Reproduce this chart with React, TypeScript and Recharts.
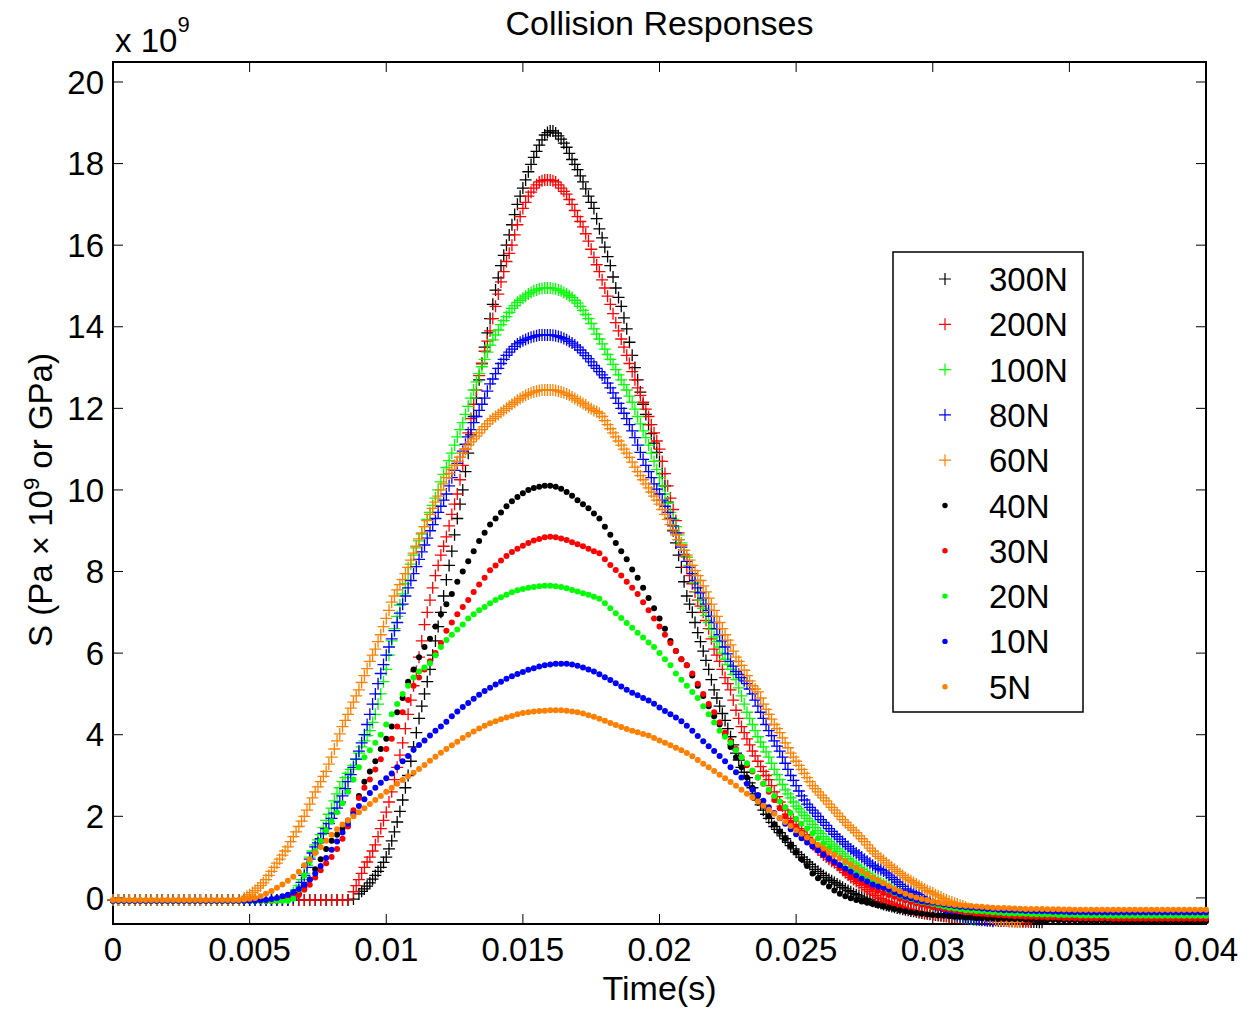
import React from 'react';
import { ScatterChart, Scatter, XAxis, YAxis, Legend } from 'recharts';

const FONT = '"Liberation Sans", Arial, Helvetica, sans-serif';
const STEP = 0.0002; // sampling interval of every series, seconds (first sample at t = 0)

const X_TICKS = [0, 0.005, 0.01, 0.015, 0.02, 0.025, 0.03, 0.035, 0.04];
const Y_TICKS = [0, 2, 4, 6, 8, 10, 12, 14, 16, 18, 20];
const Y_DOMAIN = [-0.64, 20.49];

// S in GPa, samples at t = i * STEP, one row per millisecond (5 samples)
const S300 = [
  -.05,-.05,-.05,-.05,-.05, -.05,-.05,-.05,-.05,-.05, -.05,-.05,-.05,-.05,-.05, -.05,-.05,-.05,-.05,-.05,
  -.05,-.05,-.05,-.05,-.05, -.05,-.05,-.05,-.05,-.05, -.05,-.05,-.05,-.05,-.05, -.05,-.05,-.05,-.05,-.05,
  -.05,-.05,-.05,-.05,-.03,
  .1,.22,.37,.55,.75,
  1,1.4,1.86,2.4,3,
  3.7,4.4,5,5.6,6.3,
  7,7.8,8.5,9.3,10,
  10.9,11.8,12.7,13.5,14.2,
  14.9,15.5,16,16.5,17,
  17.4,17.8,18.15,18.45,18.7,
  18.8,18.75,18.6,18.4,18.1,
  17.85,17.55,17.2,16.9,16.4,
  15.95,15.5,14.95,14.5,13.95,
  13.3,12.7,12.1,11.6,11.15,
  10.7,10.1,9.3,8.7,8.1,
  7.4,7,6.5,6.05,5.6,
  5.1,4.7,4.35,3.95,3.55,
  3.2,2.95,2.7,2.4,2.15,
  1.95,1.75,1.6,1.45,1.28,
  1.12,1,.88,.76,.65,
  .55,.46,.38,.3,.22,
  .15,.08,.02,-.03,-.08,
  -.12,-.16,-.2,-.23,-.26,
  -.29,-.32,-.34,-.37,-.39,
  -.41,-.43,-.45,-.46,-.48,
  -.49,-.5,-.51,-.52,-.53,
  -.54,-.55,-.56,-.56,-.57,
  -.57,-.58,-.58,-.59,-.59,
  -.6,
];
// in-between samples of the dense part, t = 0.0091 + i * STEP
const M300 = [
  .16,.29,.46,.65,.87,
  1.2,1.62,2.12,2.7,3.35,
  4.05,4.7,5.3,5.95,6.65,
  7.4,8.15,8.9,9.65,10.45,
  11.35,12.25,13.1,13.85,14.55,
  15.2,15.75,16.25,16.75,17.2,
  17.6,17.98,18.3,18.58,18.76,
  18.8,18.68,18.5,18.25,17.98,
  17.7,17.38,17.05,16.65,16.18,
  15.72,15.22,14.72,14.22,13.62,
  13,12.4,11.85,11.38,10.92,
  10.4,9.7,9,8.4,7.75,
  7.2,6.75,6.28,5.82,5.35,
  4.9,4.52,4.15,3.75,3.38,
  3.08,2.82,2.55,2.28,2.05,
  1.85,1.68,1.52,1.36,1.2,
  1.06,.94,.82,.7,.6,
  .5,.42,.34,.26,.18,
  .11,.05,-.01,-.05,-.1,
  -.14,-.18,-.21,-.25,-.28,
  -.3,-.33,-.36,-.38,-.4,
  -.42,-.44,-.45,-.47,-.48,
  -.5,-.5,-.52,-.52,-.54,
  -.54,-.55,-.56,-.56,-.57,
  -.58,-.58,-.58,-.59,-.6,
];

const S200 = [
  -.05,-.05,-.05,-.05,-.05, -.05,-.05,-.05,-.05,-.05, -.05,-.05,-.05,-.05,-.05, -.05,-.05,-.05,-.05,-.05,
  -.05,-.05,-.05,-.05,-.05, -.05,-.05,-.05,-.05,-.05, -.05,-.05,-.05,-.05,-.05, -.05,-.05,-.05,-.05,-.05,
  -.05,-.05,-.05,-.05,.15,
  .45,.75,1,1.3,1.7,
  2.1,2.6,3.2,3.8,4.5,
  5.2,5.9,6.7,7.3,7.9,
  8.4,8.85,9.4,9.9,10.6,
  11.4,12.1,12.8,13.4,13.9,
  14.5,15.1,15.6,16,16.5,
  16.9,17.2,17.4,17.55,17.6,
  17.6,17.55,17.4,17.25,17,
  16.7,16.45,16.1,15.7,15.35,
  14.95,14.55,14.1,13.7,13.3,
  12.9,12.5,12.15,11.8,11.4,
  11,10.4,9.8,9.25,8.65,
  8.1,7.7,7.3,7,6.6,
  6.1,5.8,5.4,5.1,4.6,
  4.2,3.9,3.6,3.35,3.1,
  2.9,2.6,2.35,2.15,1.95,
  1.8,1.62,1.48,1.35,1.18,
  1.05,.95,.86,.75,.62,
  .5,.4,.3,.2,.1,
  .02,-.05,-.1,-.16,-.21,
  -.25,-.29,-.32,-.35,-.38,
  -.4,-.42,-.44,-.46,-.47,
  -.48,-.5,-.51,-.52,-.53,
  -.54,-.55,-.55,-.56,-.56,
  -.57,-.57,-.58,-.58,
];
// t = 0.0089 + i * STEP
const M200 = [
  .3,
  .6,.88,1.15,1.5,1.9,
  2.35,2.9,3.5,4.15,4.85,
  5.55,6.3,7,7.6,8.15,
  8.62,9.12,9.65,10.25,11,
  11.75,12.45,13.1,13.65,14.2,
  14.8,15.35,15.8,16.25,16.7,
  17.05,17.3,17.48,17.58,17.6,
  17.58,17.48,17.32,17.12,16.85,
  16.58,16.28,15.9,15.52,15.15,
  14.75,14.32,13.9,13.5,13.1,
  12.7,12.32,11.98,11.6,11.2,
  10.7,10.1,9.52,8.95,8.38,
  7.9,7.5,7.15,6.8,6.35,
  5.95,5.6,5.25,4.85,4.4,
  4.05,3.75,3.48,3.22,3,
  2.75,2.48,2.25,2.05,1.88,
  1.7,1.55,1.42,1.26,1.12,
  1,.9,.8,.68,.56,
  .45,.35,.25,.15,.06,
  -.02,-.08,-.13,-.18,-.23,
  -.27,-.3,-.34,-.36,-.39,
  -.41,-.43,-.45,-.46,-.48,
  -.49,-.5,-.52,-.52,-.54,
  -.54,-.55,-.56,-.56,-.56,
  -.57,-.58,-.58,
];

const S100 = [
  -.05,-.05,-.05,-.05,-.05, -.05,-.05,-.05,-.05,-.05, -.05,-.05,-.05,-.05,-.05,
  -.05,-.05,-.05,-.05,-.05, -.05,-.05,-.05,-.05,-.05, -.05,-.05,-.05,-.05,-.05,
  -.05,-.05,0,.12,.3,
  .6,1,1.3,1.55,1.9,
  2.2,2.55,2.85,3.05,3.25,
  3.55,3.85,4.1,4.5,5,
  5.6,6.3,6.9,7.45,7.95,
  8.4,8.75,9.1,9.45,9.8,
  10.2,10.55,10.9,11.3,11.65,
  12.05,12.45,12.85,13.2,13.55,
  13.8,14.05,14.25,14.45,14.6,
  14.7,14.8,14.88,14.93,14.95,
  14.95,14.93,14.88,14.8,14.72,
  14.58,14.4,14.2,13.95,13.7,
  13.45,13.2,12.95,12.7,12.45,
  12.15,11.8,11.45,11.1,10.7,
  10.3,9.9,9.45,9.1,8.7,
  8.35,7.95,7.5,7.1,6.75,
  6.4,6.15,5.85,5.6,5.35,
  4.95,4.55,4.25,3.95,3.7,
  3.45,3.15,2.9,2.65,2.45,
  2.25,2.1,1.95,1.8,1.65,
  1.5,1.38,1.26,1.14,1.02,
  .9,.8,.7,.6,.5,
  .42,.34,.28,.22,.15,
  .09,.05,0,-.06,-.12,
  -.18,-.24,-.3,-.36,-.41,
  -.45,-.49,-.52,-.55,
];
// t = 0.0065 + i * STEP
const M100 = [
  .05,.2,.45,
  .8,1.15,1.42,1.72,2.05,
  2.38,2.7,2.95,3.15,3.4,
  3.7,3.98,4.3,4.75,5.3,
  5.95,6.6,7.18,7.7,8.18,
  8.58,8.92,9.28,9.62,10,
  10.38,10.72,11.1,11.48,11.85,
  12.25,12.65,13.02,13.38,13.68,
  13.92,14.15,14.35,14.52,14.65,
  14.75,14.84,14.9,14.94,14.95,
  14.94,14.9,14.84,14.76,14.65,
  14.5,14.3,14.08,13.82,13.58,
  13.32,13.08,12.82,12.58,12.3,
  11.98,11.62,11.28,10.9,10.5,
  10.1,9.68,9.28,8.9,8.52,
  8.15,7.72,7.3,6.92,6.58,
  6.28,6,5.72,5.48,5.15,
  4.75,4.4,4.1,3.82,3.58,
  3.3,3.02,2.78,2.55,2.35,
  2.18,2.02,1.88,1.72,1.58,
  1.44,1.32,1.2,1.08,.96,
  .85,.75,.65,.55,.46,
  .38,.31,.25,.18,.12,
  .07,.02,-.03,-.09,-.15,
  -.21,-.27,-.33,-.38,-.43,
  -.47,-.5,-.54,
];

const S80 = [
  -.05,-.05,-.05,-.05,-.05, -.05,-.05,-.05,-.05,-.05, -.05,-.05,-.05,-.05,-.05,
  -.05,-.05,-.05,-.05,-.05, -.05,-.05,-.05,-.05,-.05, -.05,-.05,-.05,-.05,-.05,
  -.05,-.05,-.05,0,.2,
  .55,.95,1.25,1.45,1.7,
  1.95,2.2,2.5,2.85,3.2,
  3.6,4,4.5,5,5.5,
  5.95,6.35,6.75,7.2,7.6,
  7.95,8.3,8.65,9,9.3,
  9.6,9.9,10.3,10.65,10.95,
  11.3,11.65,11.95,12.25,12.6,
  12.85,13.1,13.3,13.45,13.58,
  13.66,13.72,13.76,13.8,13.8,
  13.8,13.78,13.74,13.68,13.6,
  13.5,13.36,13.22,13.05,12.9,
  12.75,12.5,12.25,12,11.75,
  11.45,11.1,10.75,10.45,10.15,
  9.9,9.6,9.3,8.95,8.6,
  8.25,7.95,7.6,7.35,7.05,
  6.75,6.45,6.15,5.8,5.55,
  5.4,5.25,5,4.7,4.4,
  4.1,3.85,3.6,3.3,3,
  2.75,2.5,2.3,2.15,2,
  1.85,1.7,1.56,1.44,1.32,
  1.2,1.1,1,.9,.8,
  .72,.66,.56,.45,.33,
  .22,.16,.12,.03,-.06,
  -.15,-.23,-.3,-.36,-.41,
  -.45,-.48,-.51,-.53,-.55,
  -.56,-.57,
];
// t = 0.0067 + i * STEP
const M80 = [
  .08,.38,
  .75,1.1,1.35,1.58,1.82,
  2.08,2.35,2.68,3.02,3.4,
  3.8,4.25,4.75,5.25,5.72,
  6.15,6.55,6.98,7.4,7.78,
  8.12,8.48,8.82,9.15,9.45,
  9.75,10.1,10.48,10.8,11.12,
  11.48,11.8,12.1,12.42,12.72,
  12.98,13.2,13.38,13.52,13.62,
  13.69,13.74,13.78,13.8,13.8,
  13.79,13.76,13.71,13.64,13.55,
  13.43,13.29,13.14,12.98,12.82,
  12.62,12.38,12.12,11.88,11.6,
  11.28,10.92,10.6,10.3,10.02,
  9.75,9.45,9.12,8.78,8.42,
  8.1,7.78,7.48,7.2,6.9,
  6.6,6.3,5.98,5.68,5.48,
  5.32,5.12,4.85,4.55,4.25,
  3.98,3.72,3.45,3.15,2.88,
  2.62,2.4,2.22,2.08,1.92,
  1.78,1.63,1.5,1.38,1.26,
  1.15,1.05,.95,.85,.76,
  .69,.61,.5,.39,.28,
  .19,.14,.08,-.01,-.1,
  -.19,-.26,-.33,-.38,-.43,
  -.46,-.5,-.52,-.54,-.55,
  -.56,
];

const S60 = [
  -.05,-.05,-.05,-.05,-.05, -.05,-.05,-.05,-.05,-.05, -.05,-.05,-.05,-.05,-.05, -.05,-.05,-.05,-.05,-.05,
  -.05,-.05,-.05,-.05,0,
  .08,.18,.3,.45,.65,
  .85,1.05,1.25,1.5,1.75,
  2,2.3,2.6,2.85,3.1,
  3.45,3.85,4.2,4.5,4.8,
  5.1,5.45,5.8,6.1,6.45,
  6.85,7.25,7.55,7.8,8.1,
  8.45,8.8,9.1,9.4,9.7,
  10,10.3,10.5,10.7,10.9,
  11.1,11.25,11.4,11.55,11.7,
  11.8,11.9,12,12.1,12.2,
  12.28,12.35,12.4,12.44,12.45,
  12.45,12.44,12.4,12.35,12.28,
  12.2,12.12,12.03,11.95,11.88,
  11.7,11.5,11.3,11.1,10.9,
  10.68,10.45,10.25,10.05,9.85,
  9.65,9.4,9.15,8.9,8.65,
  8.4,8.15,7.9,7.65,7.35,
  7.05,6.75,6.45,6.2,5.9,
  5.7,5.45,5.2,5.05,4.75,
  4.5,4.25,4.05,3.8,3.55,
  3.35,3.15,2.95,2.75,2.6,
  2.45,2.3,2.15,2,1.85,
  1.72,1.6,1.45,1.3,1.15,
  1.02,.92,.8,.7,.6,
  .5,.42,.34,.26,.18,
  .12,.05,-.02,-.08,-.13,
  -.18,-.23,-.29,-.35,-.41,
  -.46,-.5,-.53,-.55,-.57,
  -.58,-.59,
];
// t = 0.0049 + i * STEP
const M60 = [
  .04,
  .13,.24,.37,.55,.75,
  .95,1.15,1.38,1.62,1.88,
  2.15,2.45,2.72,2.98,3.28,
  3.65,4.02,4.35,4.65,4.95,
  5.28,5.62,5.95,6.28,6.65,
  7.05,7.4,7.68,7.95,8.28,
  8.62,8.95,9.25,9.55,9.85,
  10.15,10.4,10.6,10.8,11,
  11.18,11.32,11.48,11.62,11.75,
  11.85,11.95,12.05,12.15,12.24,
  12.32,12.38,12.42,12.45,12.45,
  12.45,12.42,12.38,12.32,12.24,
  12.16,12.08,11.99,11.92,11.8,
  11.6,11.4,11.2,11,10.8,
  10.56,10.35,10.15,9.95,9.75,
  9.52,9.28,9.02,8.78,8.52,
  8.28,8.02,7.78,7.5,7.2,
  6.9,6.6,6.32,6.05,5.8,
  5.58,5.32,5.12,4.9,4.62,
  4.38,4.15,3.92,3.68,3.45,
  3.25,3.05,2.85,2.68,2.52,
  2.38,2.22,2.08,1.92,1.78,
  1.66,1.52,1.38,1.22,1.08,
  .97,.86,.75,.65,.55,
  .46,.38,.3,.22,.15,
  .08,.02,-.05,-.1,-.15,
  -.2,-.26,-.32,-.38,-.44,
  -.48,-.52,-.54,-.56,-.58,
  -.58,
];

const S40 = [
  -.07,-.07,-.07,-.07,-.07, -.07,-.07,-.07,-.07,-.07, -.07,-.07,-.07,-.07,-.07,
  -.07,-.07,-.07,-.07,-.07, -.07,-.07,-.07,-.07,-.07, -.07,-.07,-.07,-.07,-.07,
  -.07,-.06,-.04,0,.1,
  .25,.45,.7,.95,1.2,
  1.4,1.55,1.7,1.9,2.1,
  2.5,2.85,3.1,3.35,3.65,
  3.9,4.2,4.55,4.9,5.3,
  5.6,5.9,6.15,6.35,6.65,
  6.95,7.2,7.45,7.75,8,
  8.25,8.5,8.75,8.95,9.15,
  9.3,9.45,9.6,9.72,9.83,
  9.92,10,10.05,10.08,10.1,
  10.1,10.08,10.03,9.95,9.86,
  9.75,9.65,9.55,9.42,9.3,
  9.1,8.9,8.7,8.5,8.3,
  8.05,7.85,7.6,7.35,7.1,
  6.85,6.6,6.3,6.05,5.85,
  5.7,5.45,5.2,4.95,4.7,
  4.45,4.25,4,3.7,3.45,
  3.2,2.95,2.7,2.5,2.25,
  2,1.8,1.62,1.45,1.28,
  1.12,.95,.78,.6,.48,
  .38,.28,.18,.1,.04,
  -.01,-.05,-.09,-.12,-.15,
  -.18,-.21,-.24,-.27,-.3,
  -.33,-.35,-.37,-.39,-.41,
  -.42,-.43,-.44,-.45,-.46,
  -.47,-.48,-.48,-.49,-.49,
  -.5,-.5,-.51,-.51,-.52,
  -.52,-.52,-.53,-.53,-.53,
  -.54,-.54,-.54,-.55,-.55,
  -.55,-.55,-.56,-.56,-.56,
  -.56,-.56,-.56,-.57,-.57,
  -.57,-.57,-.57,-.57,-.57,
  -.57,-.57,-.57,-.57,-.57,
  -.57,-.57,-.57,-.57,-.57,
  -.57,
];

const S30 = [
  -.07,-.07,-.07,-.07,-.07, -.07,-.07,-.07,-.07,-.07, -.07,-.07,-.07,-.07,-.07,
  -.07,-.07,-.07,-.07,-.07, -.07,-.07,-.07,-.07,-.07, -.07,-.07,-.07,-.07,-.07,
  -.05,-.03,0,.03,.07,
  .2,.32,.5,.68,.85,
  1,1.2,1.45,1.75,2.15,
  2.45,2.7,2.9,3.15,3.4,
  3.65,3.9,4.2,4.55,4.85,
  5.2,5.4,5.6,5.8,6,
  6.25,6.55,6.75,6.95,7.13,
  7.3,7.5,7.68,7.85,8.03,
  8.15,8.27,8.38,8.48,8.56,
  8.63,8.7,8.76,8.8,8.84,
  8.85,8.84,8.81,8.77,8.72,
  8.67,8.62,8.56,8.5,8.45,
  8.3,8.16,8.04,7.9,7.75,
  7.6,7.45,7.25,7.05,6.85,
  6.65,6.45,6.25,6.05,5.85,
  5.7,5.5,5.25,5,4.75,
  4.55,4.3,4.05,3.85,3.65,
  3.45,3.25,3.1,2.95,2.8,
  2.6,2.4,2.2,2,1.85,
  1.72,1.6,1.5,1.38,1.26,
  1.12,.98,.86,.74,.62,
  .52,.44,.37,.3,.24,
  .18,.12,.07,.03,-.02,
  -.06,-.1,-.13,-.17,-.2,
  -.23,-.25,-.27,-.29,-.31,
  -.33,-.35,-.36,-.38,-.39,
  -.4,-.41,-.42,-.43,-.44,
  -.45,-.45,-.46,-.46,-.47,
  -.47,-.48,-.48,-.48,-.49,
  -.49,-.49,-.5,-.5,-.5,
  -.5,-.5,-.5,-.51,-.51,
  -.51,-.51,-.51,-.51,-.51,
  -.51,-.51,-.51,-.51,-.51,
  -.51,-.51,-.51,-.51,-.51,
  -.51,
];

const S20 = [
  -.07,-.07,-.07,-.07,-.07, -.07,-.07,-.07,-.07,-.07, -.07,-.07,-.07,-.07,-.07,
  -.07,-.07,-.07,-.07,-.07, -.07,-.07,-.07,-.07,-.07, -.07,-.07,-.07,-.07,-.07,
  -.07,-.07,-.07,-.02,.2,
  .55,.9,1.15,1.4,1.65,
  1.88,2.1,2.32,2.6,2.9,
  3.2,3.45,3.62,3.8,4,
  4.25,4.5,4.75,5,5.2,
  5.4,5.55,5.65,5.75,5.95,
  6.15,6.32,6.45,6.58,6.7,
  6.85,6.95,7.05,7.13,7.22,
  7.3,7.37,7.43,7.49,7.54,
  7.57,7.6,7.62,7.64,7.65,
  7.65,7.64,7.62,7.59,7.55,
  7.51,7.47,7.43,7.38,7.33,
  7.22,7.1,6.98,6.86,6.74,
  6.62,6.5,6.38,6.26,6.15,
  6,5.85,5.7,5.5,5.35,
  5.2,5.05,4.9,4.7,4.5,
  4.3,4.1,3.95,3.8,3.62,
  3.45,3.3,3.12,2.95,2.8,
  2.65,2.5,2.36,2.22,2.08,
  1.94,1.82,1.7,1.58,1.46,
  1.34,1.22,1.1,.98,.87,
  .77,.67,.58,.49,.41,
  .33,.26,.19,.12,.06,
  .01,-.03,-.07,-.1,-.12,
  -.15,-.18,-.21,-.24,-.26,
  -.28,-.3,-.31,-.32,-.33,
  -.34,-.35,-.36,-.37,-.38,
  -.38,-.39,-.39,-.4,-.4,
  -.41,-.41,-.41,-.42,-.42,
  -.42,-.42,-.43,-.43,-.43,
  -.43,-.43,-.44,-.44,-.44,
  -.44,-.44,-.44,-.44,-.44,
  -.44,-.44,-.44,-.44,-.44,
  -.44,-.44,-.44,-.44,-.44,
  -.44,
];

const S10 = [
  -.07,-.07,-.07,-.07,-.07, -.07,-.07,-.07,-.07,-.07, -.07,-.07,-.07,-.07,-.07,
  -.07,-.07,-.07,-.07,-.07, -.07,-.07,-.07,-.07,-.07,
  -.07,-.07,-.06,-.05,-.03,
  0,.04,.08,.14,.22,
  .32,.45,.6,.78,.98,
  1.18,1.38,1.6,1.82,2.05,
  2.25,2.42,2.57,2.7,2.82,
  2.93,3.05,3.2,3.35,3.48,
  3.63,3.75,3.86,3.98,4.1,
  4.2,4.32,4.45,4.57,4.68,
  4.78,4.88,4.98,5.07,5.15,
  5.23,5.3,5.37,5.43,5.49,
  5.54,5.59,5.63,5.67,5.7,
  5.72,5.74,5.74,5.74,5.72,
  5.69,5.65,5.6,5.55,5.48,
  5.41,5.34,5.26,5.18,5.1,
  5.03,4.97,4.9,4.84,4.76,
  4.67,4.58,4.5,4.42,4.33,
  4.22,4.1,3.97,3.84,3.72,
  3.6,3.48,3.35,3.2,3.08,
  2.95,2.8,2.65,2.52,2.38,
  2.22,2.08,1.95,1.82,1.68,
  1.56,1.46,1.36,1.26,1.16,
  1.06,.96,.88,.8,.72,
  .64,.55,.47,.4,.33,
  .28,.25,.2,.14,.08,
  .03,-.01,-.05,-.08,-.1,
  -.12,-.14,-.16,-.18,-.2,
  -.22,-.23,-.24,-.25,-.26,
  -.27,-.28,-.29,-.3,-.3,
  -.31,-.31,-.32,-.32,-.33,
  -.33,-.33,-.34,-.34,-.34,
  -.35,-.35,-.35,-.35,-.36,
  -.36,-.36,-.36,-.36,-.36,
  -.36,-.36,-.36,-.36,-.36,
  -.36,-.36,-.36,-.36,-.36,
  -.36,-.36,-.36,-.36,-.36,
  -.36,
];

const S5 = [
  -.05,-.05,-.05,-.05,-.05, -.05,-.05,-.05,-.05,-.05, -.05,-.05,-.05,-.05,-.05, -.05,-.05,-.05,-.05,-.05,
  -.05,-.05,-.05,-.05,-.04,
  -.02,0,.04,.1,.17,
  .25,.33,.42,.52,.64,
  .8,.95,1.1,1.25,1.4,
  1.55,1.68,1.8,1.9,2,
  2.1,2.2,2.3,2.4,2.5,
  2.6,2.7,2.8,2.89,2.98,
  3.07,3.16,3.26,3.36,3.46,
  3.56,3.65,3.74,3.83,3.92,
  4,4.08,4.15,4.22,4.28,
  4.33,4.38,4.42,4.46,4.5,
  4.53,4.55,4.57,4.58,4.59,
  4.6,4.6,4.6,4.59,4.57,
  4.55,4.52,4.48,4.44,4.39,
  4.34,4.29,4.24,4.19,4.14,
  4.1,4.06,4.02,3.98,3.92,
  3.86,3.8,3.74,3.68,3.62,
  3.55,3.47,3.38,3.29,3.2,
  3.11,3.02,2.93,2.84,2.75,
  2.65,2.55,2.46,2.36,2.26,
  2.16,2.06,1.96,1.86,1.76,
  1.66,1.57,1.48,1.39,1.3,
  1.22,1.14,1.06,.98,.9,
  .82,.74,.66,.58,.5,
  .43,.36,.29,.22,.16,
  .1,.05,.01,-.03,-.06,
  -.09,-.11,-.13,-.15,-.17,
  -.18,-.19,-.2,-.21,-.22,
  -.23,-.24,-.245,-.25,-.255,
  -.26,-.265,-.27,-.27,-.275,
  -.275,-.28,-.28,-.28,-.285,
  -.285,-.29,-.29,-.29,-.29,
  -.29,-.29,-.29,-.29,-.29,
  -.29,-.29,-.29,-.29,-.29,
  -.29,-.29,-.29,-.29,-.29,
  -.29,-.29,-.29,-.29,-.29,
  -.29,
];

const NAMES = ['300N', '200N', '100N', '80N', '60N', '40N', '30N', '20N', '10N', '5N'];
const COLORS = ['#000000', '#ff0000', '#00ff00', '#0000ff', '#ff8000', '#000000', '#ff0000', '#00ff00', '#0000ff', '#ff8000'];
const MARKERS = ['plus', 'plus', 'plus', 'plus', 'plus', 'dot', 'dot', 'dot', 'dot', 'dot'];
const VALUES = [S300, S200, S100, S80, S60, S40, S30, S20, S10, S5];
const MID_VALUES = [M300, M200, M100, M80, M60, [], [], [], [], []];
const MID_START = [0.0091, 0.0089, 0.0065, 0.0067, 0.0049, 0, 0, 0, 0, 0];

const toPoints = (vals: number[], start: number) =>
  vals.map((v, i) => ({ t: Math.round((start + i * STEP) * 1e5) / 1e5, v }));

const SERIES = NAMES.map((name, k) => ({
  name,
  color: COLORS[k],
  marker: MARKERS[k],
  data: [...toPoints(VALUES[k], 0), ...toPoints(MID_VALUES[k], MID_START[k])],
}));

const plusShape = (color: string) => (props: any) => {
  const { cx, cy } = props;
  if (cx == null || cy == null) return <g />;
  return (
    <path
      d={`M${cx - 6},${cy}H${cx + 6}M${cx},${cy - 6}V${cy + 6}`}
      stroke={color}
      strokeWidth={1.3}
      fill="none"
    />
  );
};

const dotShape = (color: string) => (props: any) => {
  const { cx, cy } = props;
  if (cx == null || cy == null) return <g />;
  return <circle cx={cx} cy={cy} r={3} fill={color} />;
};

const LegendBox = () => (
  <svg width={194} height={464} style={{ display: 'block', overflow: 'visible' }}>
    <rect x={1} y={1} width={190} height={460} fill="#fff" stroke="#000" strokeWidth={1.5} />
    {SERIES.map((s, k) => {
      const cy = 28 + k * 45.3;
      return (
        <g key={s.name}>
          {s.marker === 'plus' ? (
            <path d={`M47,${cy}H59M53,${cy - 6}V${cy + 6}`} stroke={s.color} strokeWidth={1.2} fill="none" />
          ) : (
            <circle cx={53} cy={cy} r={2.7} fill={s.color} />
          )}
          <text x={97} y={cy + 12} fontSize={33} fontFamily={FONT} fill="#000">
            {s.name}
          </text>
        </g>
      );
    })}
  </svg>
);

const axisLineStyle = { stroke: '#000', strokeWidth: 2, strokeLinecap: 'square' as const };
const tickLineStyle = { stroke: '#000', strokeWidth: 1 };
const tickStyle = { fontSize: 33, fill: '#000', fontFamily: FONT };

const TitleLabel = (props: any) => {
  const vb = props.viewBox || { x: 113, width: 1093 };
  return (
    <text x={vb.x + vb.width / 2} y={35} textAnchor="middle" fontSize={34} fontFamily={FONT} fill="#000">
      Collision Responses
    </text>
  );
};

const XLabel = (props: any) => {
  const vb = props.viewBox || { x: 113, width: 1093 };
  return (
    <text x={vb.x + vb.width / 2} y={1000} textAnchor="middle" fontSize={34} fontFamily={FONT} fill="#000">
      Time(s)
    </text>
  );
};

const YLabel = () => (
  <g>
    <g transform="translate(52,500) rotate(-90)">
      <text x={0} y={0} textAnchor="middle" fontSize={33} fontFamily={FONT} fill="#000">
        S (Pa<tspan> × </tspan>10<tspan dy={-13} fontSize={22}>9</tspan>
        <tspan dy={13}> or GPa)</tspan>
      </text>
    </g>
    <text x={115} y={52} fontSize={33} fontFamily={FONT} fill="#000">
      x 10<tspan dy={-20} fontSize={22}>9</tspan>
    </text>
  </g>
);

export default function App() {
  return (
    <div style={{ position: 'absolute', left: 0, top: 0, width: 1250, height: 1009, background: '#fff' }}>
      <ScatterChart
        width={1250}
        height={1009}
        margin={{ top: 61, right: 43, bottom: 84, left: 112 }}
        style={{ background: '#fff' }}
      >
        <XAxis
          xAxisId="b"
          type="number"
          dataKey="t"
          orientation="bottom"
          domain={[0, 0.04]}
          ticks={X_TICKS}
          interval={0}
          height={1}
          tickSize={-10}
          tickMargin={24}
          axisLine={axisLineStyle}
          tickLine={tickLineStyle}
          tick={tickStyle}
          tickFormatter={(v: number) => String(v)}
          label={XLabel}
        />
        <XAxis
          xAxisId="t"
          type="number"
          dataKey="t"
          orientation="top"
          domain={[0, 0.04]}
          allowDataOverflow
          ticks={X_TICKS}
          interval={0}
          height={1}
          tickSize={-10}
          axisLine={axisLineStyle}
          tickLine={tickLineStyle}
          tick={tickStyle}
          tickFormatter={() => ''}
          label={TitleLabel}
        />
        <YAxis
          yAxisId="l"
          type="number"
          dataKey="v"
          orientation="left"
          domain={Y_DOMAIN}
          ticks={Y_TICKS}
          interval={0}
          width={1}
          tickSize={-10}
          tickMargin={19}
          axisLine={axisLineStyle}
          tickLine={tickLineStyle}
          tick={tickStyle}
          label={YLabel}
        />
        <YAxis
          yAxisId="r"
          type="number"
          dataKey="v"
          orientation="right"
          domain={Y_DOMAIN}
          allowDataOverflow
          ticks={Y_TICKS}
          interval={0}
          width={1}
          tickSize={-10}
          axisLine={axisLineStyle}
          tickLine={tickLineStyle}
          tick={tickStyle}
          tickFormatter={() => ''}
        />
        {SERIES.map((s) => (
          <Scatter
            key={s.name}
            name={s.name}
            data={s.data}
            dataKey="v"
            xAxisId="b"
            yAxisId="l"
            fill={s.color}
            isAnimationActive={false}
            shape={s.marker === 'plus' ? plusShape(s.color) : dotShape(s.color)}
          />
        ))}
        <Legend
          layout="horizontal"
          verticalAlign="middle"
          align="center"
          content={LegendBox}
          wrapperStyle={{ left: 892, top: 251, width: 194, height: 464 }}
        />
      </ScatterChart>
    </div>
  );
}
